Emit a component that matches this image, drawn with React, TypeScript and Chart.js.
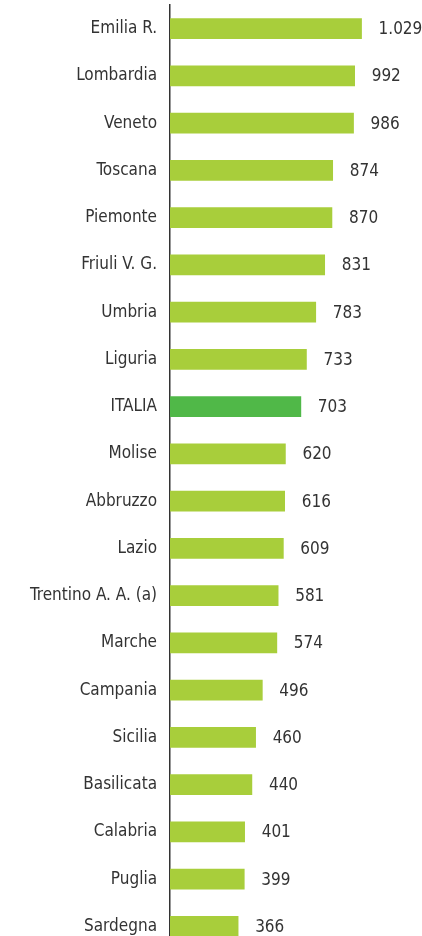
import React, { useEffect, useRef } from "react";
import { Chart, registerables } from "chart.js";

Chart.register(...registerables);

const categories = [
  "Emilia R.", "Lombardia", "Veneto", "Toscana", "Piemonte", "Friuli V. G.",
  "Umbria", "Liguria", "ITALIA", "Molise", "Abbruzzo", "Lazio",
  "Trentino A. A. (a)", "Marche", "Campania", "Sicilia", "Basilicata",
  "Calabria", "Puglia", "Sardegna",
];
const values = [1029, 992, 986, 874, 870, 831, 783, 733, 703, 620, 616, 609, 581, 574, 496, 460, 440, 401, 399, 366];
const highlight = "ITALIA";

const BAR = "#a8ce3b";
const BAR_HI = "#50b848";
const TEXT = "#333333";
const FONT = '"Liberation Sans Narrow", "DejaVu Sans Condensed", "Arial Narrow", sans-serif';
const FONT_SIZE = 17;

const fmt = (v: number) => String(v).replace(/\B(?=(\d{3})+(?!\d))/g, ".");

const valueLabels = {
  id: "valueLabels",
  afterDatasetsDraw(chart: any) {
    const ctx = chart.ctx;
    const meta = chart.getDatasetMeta(0);
    ctx.save();
    ctx.font = `${FONT_SIZE}px ${FONT}`;
    ctx.fillStyle = TEXT;
    ctx.textAlign = "left";
    ctx.textBaseline = "middle";
    meta.data.forEach((bar: any, i: number) => {
      ctx.fillText(fmt(values[i]), bar.x + 17, bar.y + 1);
    });
    ctx.restore();
  },
};

export default function App() {
  const ref = useRef<HTMLCanvasElement>(null);
  useEffect(() => {
    if (!ref.current) return;
    const chart = new Chart(ref.current, {
      type: "bar",
      data: {
        labels: categories,
        datasets: [
          {
            data: values,
            backgroundColor: categories.map((c) => (c === highlight ? BAR_HI : BAR)),
            barThickness: 20,
            borderWidth: 0,
          },
        ],
      },
      options: {
        indexAxis: "y",
        animation: false,
        responsive: false,
        devicePixelRatio: 1,
        layout: { padding: { top: 5, bottom: 2, right: 10, left: 0 } },
        plugins: { legend: { display: false }, tooltip: { enabled: false } },
        scales: {
          x: { display: false, min: 0, max: 1300 },
          y: {
            afterFit: (s: any) => {
              s.width = 170;
              s.paddingTop = 0;
              s.paddingBottom = 0;
            },
            grid: { display: false, drawTicks: false },
            border: { display: true, color: "#333333", width: 1.5 },
            ticks: {
              padding: 13,
              color: TEXT,
              font: { family: FONT, size: FONT_SIZE },
              autoSkip: false,
            },
          },
        },
      },
      plugins: [valueLabels],
    });
    return () => chart.destroy();
  }, []);
  return (
    <div
      style={{
        position: "fixed",
        top: 0,
        left: 0,
        width: 422,
        height: 936,
        overflow: "hidden",
        background: "#fff",
      }}
    >
      <canvas ref={ref} width={422} height={952} style={{ display: "block" }} />
    </div>
  );
}
